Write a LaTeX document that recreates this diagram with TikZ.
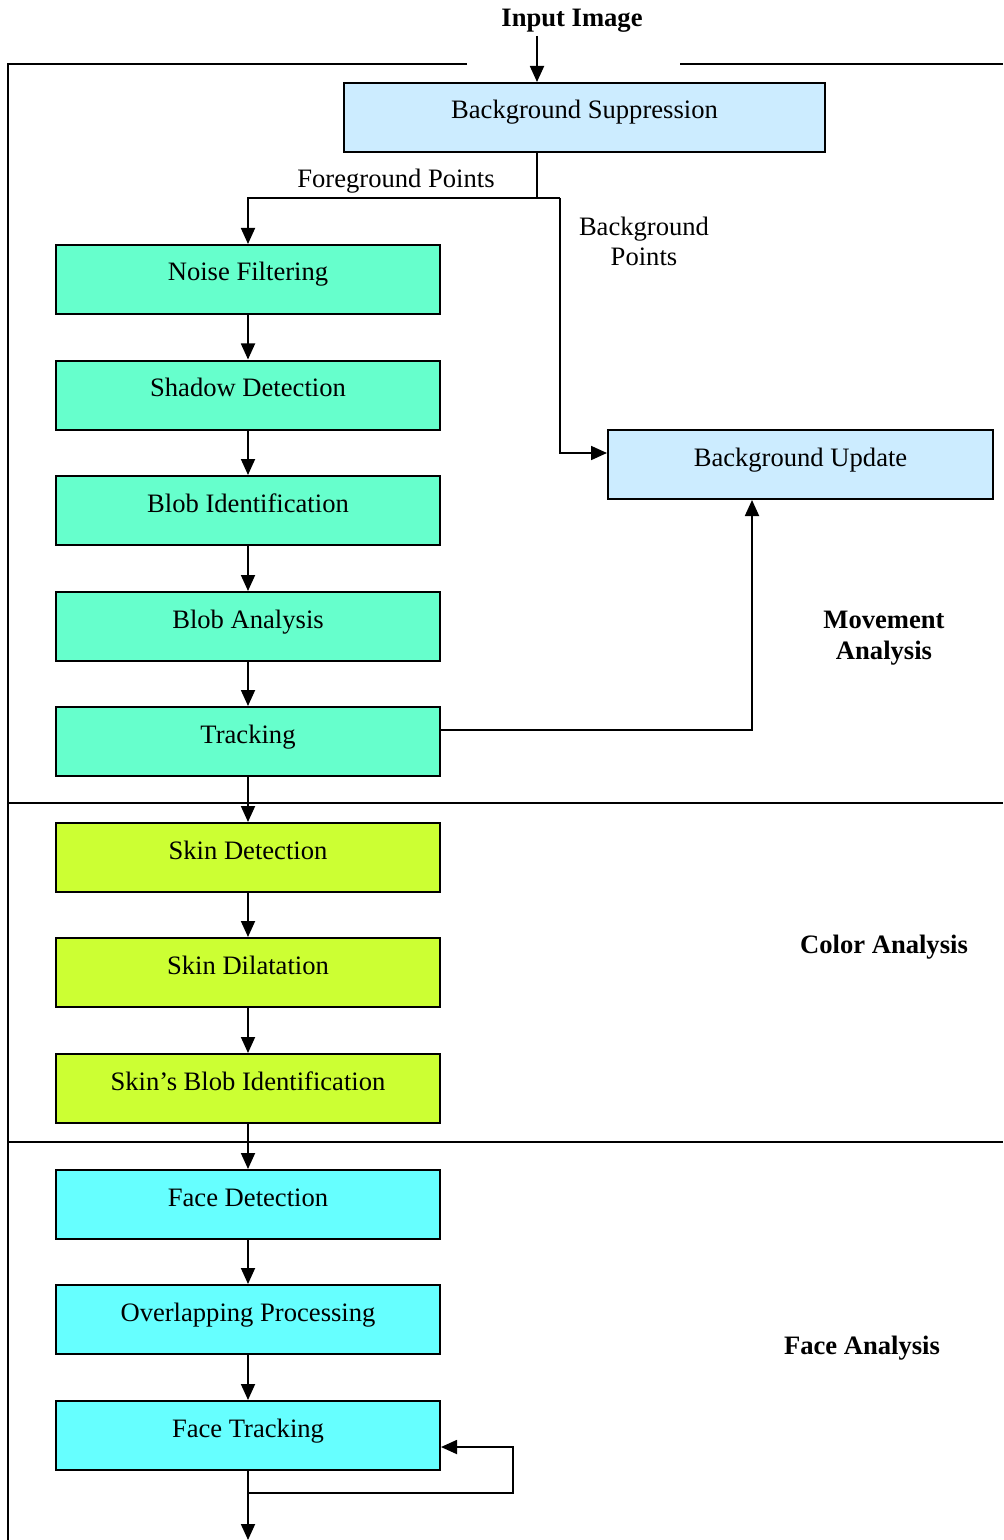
\documentclass[tikz,border=0pt]{standalone}
\usepackage{fontspec}
\setmainfont{Liberation Serif}
\usetikzlibrary{arrows.meta,calc}
\definecolor{bgblue}{HTML}{CCECFF}
\definecolor{mvgreen}{HTML}{66FFCC}
\definecolor{colyel}{HTML}{CCFF33}
\definecolor{facecyan}{HTML}{66FFFF}
\begin{document}
\begin{tikzpicture}[x=0.5pt,y=-0.5pt,
  font=\fontsize{13.3}{15}\selectfont,
  box/.style={draw,line width=1pt,minimum width=192pt,minimum height=34.5pt,
    inner sep=0pt,text height=0.9em,text depth=0.75em},
  mvbox/.style={box,fill=mvgreen},
  colbox/.style={box,fill=colyel},
  facebox/.style={box,fill=facecyan},
  conn/.style={line width=0.9pt},
  arr/.style={conn,-{Triangle[length=8pt,width=7pt]}},
  frame/.style={line width=0.9pt},
  sect/.style={font=\fontsize{13.3}{15.5}\selectfont\bfseries,align=center}
]
\useasboundingbox (0,0) rectangle (1003,1540);
% frame
\draw[frame] (467,64) -- (8,64) -- (8,1540);
\draw[frame] (680,64) -- (1003,64);
\draw[frame] (8,803) -- (1003,803);
\draw[frame] (8,1142) -- (1003,1142);
% title
\node[font=\fontsize{13.3}{15}\selectfont\bfseries] (in) at (572,21) {Input Image};
% boxes
\node[box,fill=bgblue,minimum width=240.5pt] (bs) at (584.5,117.5) {Background Suppression};
\node[box,fill=bgblue,minimum width=192.5pt] (bu) at (800.5,464.5) {Background Update};
\node[mvbox] (nf) at (248,279.5) {Noise Filtering};
\node[mvbox] (sd) at (248,395) {Shadow Detection};
\node[mvbox] (bi) at (248,510.5) {Blob Identification};
\node[mvbox] (ba) at (248,626.5) {Blob Analysis};
\node[mvbox] (tr) at (248,741.5) {Tracking};
\node[colbox] (skd) at (248,857.5) {Skin Detection};
\node[colbox] (skl) at (248,972.5) {Skin Dilatation};
\node[colbox] (skb) at (248,1088.5) {Skin’s Blob Identification};
\node[facebox] (fd) at (248,1204.5) {Face Detection};
\node[facebox] (op) at (248,1319.5) {Overlapping Processing};
\node[facebox] (ft) at (248,1435.5) {Face Tracking};
% labels
\node (fgl) at (396,181) {Foreground Points};
\node[align=center] (bgl) at (644,241) {Background\\Points};
\node[sect] (mal) at (884,638) {Movement\\Analysis};
\node[sect] (cal) at (884,947) {Color Analysis};
\node[sect] (fal) at (862,1348) {Face Analysis};
% coordinates
\coordinate (j) at (537,198);
\coordinate (k) at (560,198);
\coordinate (ti) at (537,36);
\coordinate (lp) at (248,1493);
\coordinate (lr) at (513,1493);
\coordinate (out) at (248,1540);
% connectors
\draw[arr] (ti) -- (bs.north -| j);
\draw[conn] (bs.south -| j) -- (j) -- (k);
\draw[arr] (j) -| (nf.north);
\draw[arr] (k) |- ([yshift=5.75pt]bu.west);
\draw[arr] (nf) -- (sd);
\draw[arr] (sd) -- (bi);
\draw[arr] (bi) -- (ba);
\draw[arr] (ba) -- (tr);
\draw[arr] (tr) -- (skd);
\draw[arr] (skd) -- (skl);
\draw[arr] (skl) -- (skb);
\draw[arr] (skb) -- (fd);
\draw[arr] (fd) -- (op);
\draw[arr] (op) -- (ft);
\draw[arr] ([yshift=5.75pt]tr.east) -| ([xshift=-24.25pt]bu.south);
\draw[arr] (ft.south) -- (lp) -- (lr) |- ([yshift=-5.75pt]ft.east);
\draw[arr] (lp) -- (out);
\end{tikzpicture}
\end{document}
